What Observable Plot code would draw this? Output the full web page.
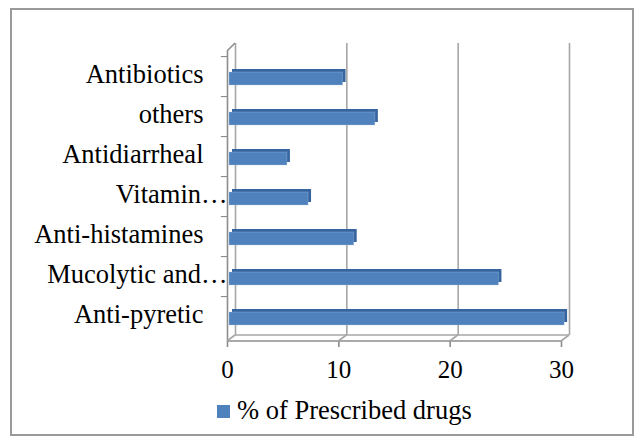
<!DOCTYPE html>
<html>
<head>
<meta charset="utf-8">
<script src="https://cdn.jsdelivr.net/npm/d3@7"></script>
<script src="https://cdn.jsdelivr.net/npm/@observablehq/plot@0.6"></script>
<style>
  html, body { margin: 0; padding: 0; background: #fff; }
  #wrap { position: relative; width: 640px; height: 441px; overflow: hidden; font-family: "Liberation Serif", "Times New Roman", serif; }
  #frame { position: absolute; left: 10px; top: 8px; width: 620px; height: 424px; border: 2px solid #9a9a9a; box-sizing: content-box; }
  #chart { position: absolute; left: 0; top: 0; }
  #legend { position: absolute; left: 217px; top: 397px; font-size: 26.5px; line-height: 26px; color: #000; white-space: nowrap; }
  #legend .sw { display: inline-block; width: 13px; height: 13px; background: #4f81bd; margin-right: 7px; vertical-align: 1px; }
</style>
</head>
<body>
<div id="wrap">
  <div id="frame"></div>
  <div id="chart"></div>
  <div id="legend"></div>
</div>
<script>
const categories = ["Antibiotics", "others", "Antidiarrheal", "Vitamin…", "Anti-histamines", "Mucolytic and…", "Anti-pyretic"];
const values = [10.2, 13.1, 5.2, 7.1, 11.2, 24.2, 30.1];
const xTicks = [0, 10, 20, 30];
const seriesName = "% of Prescribed drugs";

const rows = categories.map((c, i) => ({cat: c, value: values[i]}));
const truncated = categories.filter(c => c.endsWith("…"));
const full = categories.filter(c => !c.endsWith("…"));

const depthX = 8, depthY = 6;
const gridColor = "#a6a6a6";
const axisColor = "#8c8c8c";
const font = "'Liberation Serif', 'Times New Roman', serif";

const plot = Plot.plot({
  width: 640,
  height: 385,
  marginLeft: 227,
  marginRight: 79,
  marginTop: 43,
  marginBottom: 44,
  style: {fontFamily: font, fontSize: "25px", color: "#000", background: "transparent", overflow: "visible"},
  x: {domain: [0, 30], ticks: xTicks, axis: null},
  y: {domain: categories, range: [53, 339], paddingInner: 0.68, paddingOuter: 0.34, axis: null},
  marks: [
    Plot.ruleX(xTicks, {x: d => d, dx: depthX, insetBottom: depthY, stroke: gridColor, strokeWidth: 1.6}),
    Plot.barX(rows, {x: "value", y: "cat", dx: 5, dy: -1, fill: "#36649e"}),
    Plot.barX(rows, {x: "value", y: "cat", dx: 2, dy: 2, fill: "#4f81bd"}),
    Plot.barX(rows, {x: "value", y: "cat", dx: 2, dy: 2, fill: "none", stroke: "#a9c4e6", strokeOpacity: 0.35, strokeWidth: 1}),
    Plot.ruleX([0], {x: d => d, insetTop: depthY + 2, stroke: axisColor, strokeWidth: 1.6}),
    Plot.ruleY(categories, {y: d => d, x1: -0.55, x2: 0, dy: -20.43, stroke: axisColor, strokeWidth: 1.2}),
    Plot.axisX({ticks: xTicks, tickSize: 6, tickPadding: 13, stroke: axisColor, strokeWidth: 1.6, label: null, fontSize: 25, fill: "#000"}),
    Plot.text(full, {x: 0, y: d => d, text: d => d, dx: -24, dy: -2, textAnchor: "end", fontSize: 26.5, fill: "#000"}),
    Plot.text(truncated, {x: 0, y: d => d, text: d => d, dx: 0, dy: -2, textAnchor: "end", fontSize: 26.5, fill: "#000"})
  ]
});

// 3-D floor and wall edges, placed with the plot's own scales
const xs = plot.scale("x");
const svg = d3.select(plot);
const yFront = 385 - 44;
const yBack = yFront - depthY;
const g = svg.append("g").attr("stroke", gridColor).attr("stroke-width", 1.6).attr("fill", "none");
const x0 = xs.apply(0), x1 = xs.apply(30);
g.append("line").attr("x1", x0).attr("x2", x1).attr("y1", yFront).attr("y2", yFront).attr("stroke", axisColor);
g.append("line").attr("x1", x0 + depthX).attr("x2", x1 + depthX).attr("y1", yBack).attr("y2", yBack);
xTicks.forEach(t => {
  const xp = xs.apply(t);
  g.append("line").attr("x1", xp).attr("y1", yFront).attr("x2", xp + depthX).attr("y2", yBack);
});
g.append("line").attr("x1", x0).attr("y1", 43 + depthY + 2).attr("x2", x0 + depthX).attr("y2", 43).attr("stroke", axisColor);

document.getElementById("chart").appendChild(plot);
document.getElementById("legend").innerHTML = '<span class="sw"></span>' + seriesName;
</script>
</body>
</html>
